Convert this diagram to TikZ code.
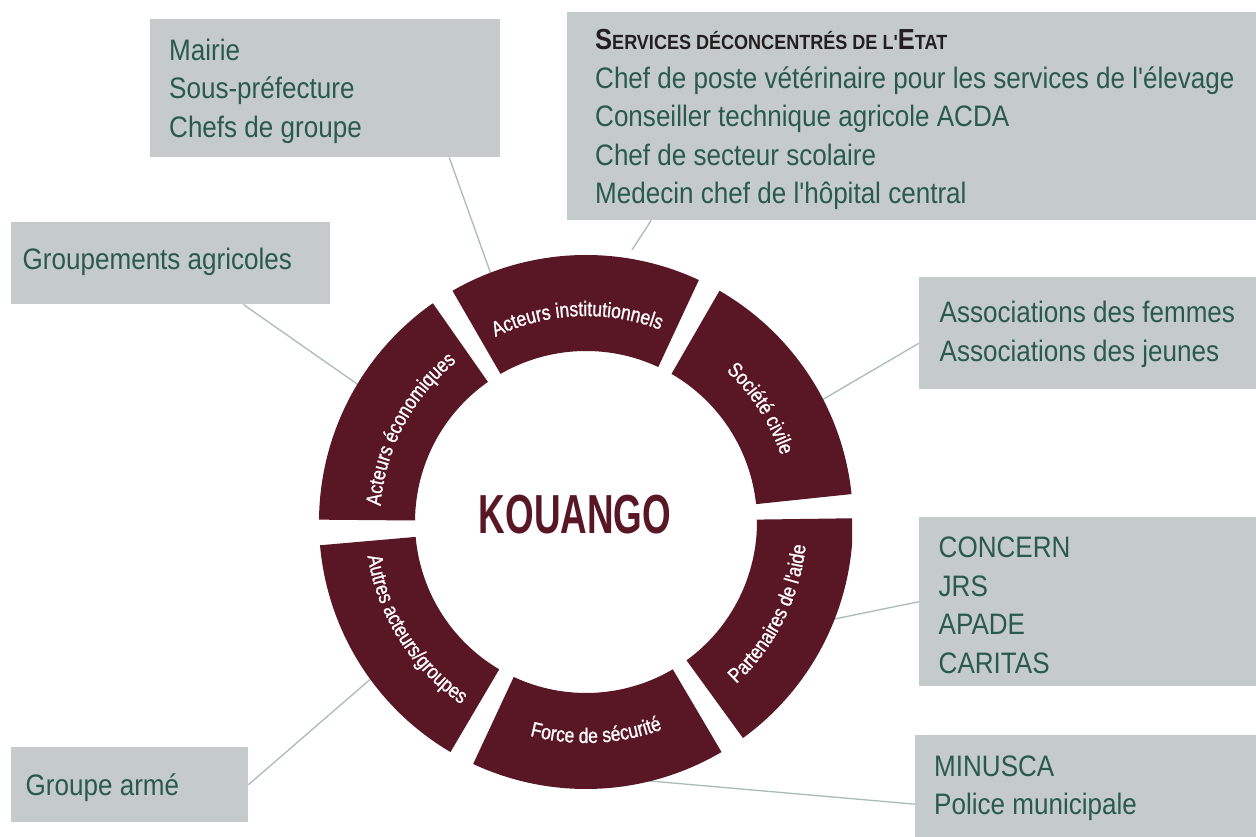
\documentclass[tikz,border=0pt]{standalone}
\usepackage{fontspec}
\setmainfont{Liberation Sans}
\newfontfamily\boxfont[FakeStretch=0.88]{Liberation Sans}
\newfontfamily\ringfont[FakeStretch=0.83,FakeBold=1]{Liberation Sans}
\newfontfamily\kfont[FakeStretch=0.67]{Liberation Sans}
\usetikzlibrary{decorations.text}
\definecolor{ringc}{RGB}{89,22,37}
\definecolor{boxc}{RGB}{197,203,202}
\definecolor{txtc}{RGB}{42,90,76}
\definecolor{hdrc}{RGB}{35,31,32}
\definecolor{linec}{RGB}{168,188,184}
\tikzset{
  boxrect/.style={rectangle, fill=boxc, draw=none, anchor=north west, inner sep=0pt},
  boxtext/.style={anchor=west, inner sep=0pt, align=left, text=txtc,
    font=\boxfont\fontsize{29.6}{38.5}\selectfont},
  conn/.style={draw=linec, line width=1.3pt},
  centerlabel/.style={text=ringc, font=\kfont\bfseries\fontsize{55}{60}\selectfont, inner sep=0pt},
}
\newcommand\myringseg[2]{%
  \fill[ringc] (#1:267pt) arc[start angle=#1, end angle=#2, radius=267pt]
    -- (#2:171pt) arc[start angle=#2, end angle=#1, radius=171pt] -- cycle;}
\newcommand\myringlabel[4]{%
  \path[decorate, decoration={text along path, text align=center,
    text={|\ringfont\fontsize{21}{22}\selectfont\color{white}|#4}}]
    (#1:#3pt) arc[start angle=#1, end angle=#2, radius=#3pt];}
\begin{document}
\begin{tikzpicture}[x=1pt,y=1pt]
\useasboundingbox (0,0) rectangle (1256,837);
\fill[white] (0,0) rectangle (1256,837);
\coordinate (C) at (586,315);
% boxes
\node[boxrect, minimum width=350pt, minimum height=138pt] (bMairie) at (150,818) {};
\node[boxrect, minimum width=689pt, minimum height=208pt] (bServices) at (567,825) {};
\node[boxrect, minimum width=319pt, minimum height=82pt] (bGroup) at (11,615) {};
\node[boxrect, minimum width=337pt, minimum height=112pt] (bAssoc) at (919,560) {};
\node[boxrect, minimum width=337pt, minimum height=169pt] (bConcern) at (919,320) {};
\node[boxrect, minimum width=341pt, minimum height=102pt] (bMinusca) at (915,102) {};
\node[boxrect, minimum width=237pt, minimum height=75pt] (bArme) at (11,90) {};
% box texts
\node[boxtext] (tMairie) at ([xshift=19pt,yshift=-3pt]bMairie.west) {Mairie\\Sous-préfecture\\Chefs de groupe};
\node[boxtext] (tServices) at ([xshift=28pt,yshift=-3.5pt]bServices.west) {{\color{hdrc}\bfseries\fontsize{29}{38.5}\selectfont S\fontsize{20.5}{38.5}\selectfont ERVICES DÉCONCENTRÉS DE L'\fontsize{29}{38.5}\selectfont E\fontsize{20.5}{38.5}\selectfont TAT}\\Chef de poste vétérinaire pour les services de l'élevage\\Conseiller technique agricole ACDA\\Chef de secteur scolaire\\Medecin chef de l'hôpital central};
\node[boxtext] (tGroup) at ([xshift=11.5pt,yshift=1pt]bGroup.west) {Groupements agricoles};
\node[boxtext] (tAssoc) at ([xshift=20.5pt,yshift=-1pt]bAssoc.west) {Associations des femmes\\Associations des jeunes};
\node[boxtext] (tConcern) at ([xshift=19.5pt,yshift=-3.5pt]bConcern.west) {CONCERN\\JRS\\APADE\\CARITAS};
\node[boxtext] (tMinusca) at ([xshift=19pt,yshift=-2pt]bMinusca.west) {MINUSCA\\Police municipale};
\node[boxtext] (tArme) at ([xshift=14.5pt,yshift=-3pt]bArme.west) {Groupe armé};
% attach points on the ring
\begin{scope}[shift={(C)}]
  \coordinate (aMairie) at (111:262pt);
  \coordinate (aServ) at (80.4:276pt);
  \coordinate (aGroup) at (149:262pt);
  \coordinate (aAssoc) at (27.3:262pt);
  \coordinate (aConcern) at (-22:262pt);
  \coordinate (aMinusca) at (-79.5:262pt);
  \coordinate (aArme) at (-144:262pt);
\end{scope}
% connectors
\draw[conn] ([xshift=124pt]bMairie.south) -- (aMairie);
\draw[conn] ([xshift=-260.5pt]bServices.south) -- (aServ);
\draw[conn] ([xshift=72.5pt]bGroup.south) -- (aGroup);
\draw[conn] ([yshift=-10pt]bAssoc.west) -- (aAssoc);
\draw[conn] (bConcern.west) -- (aConcern);
\draw[conn] ([yshift=-18pt]bMinusca.west) -- (aMinusca);
\draw[conn] (bArme.east) -- (aArme);
% ring
\begin{scope}
  \clip (0,0) rectangle (852,837);
  \begin{scope}[shift={(C)}]
    \myringseg{65}{120}
    \myringseg{125}{179.5}
    \myringseg{185}{239.5}
    \myringseg{245}{300.5}
    \myringseg{306}{360.8}
    \myringseg{6}{60}
  \end{scope}
\end{scope}
% ring labels
\begin{scope}[shift={(C)}]
  \myringlabel{120}{65}{206}{Acteurs institutionnels}
  \myringlabel{179.5}{125}{206}{Acteurs économiques}
  \myringlabel{60}{6}{206}{Société civile}
  \myringlabel{185}{239.5}{221}{Autres acteurs/groupes}
  \myringlabel{245}{300.5}{221}{Force de sécurité}
  \myringlabel{306}{360.8}{221}{Partenaires de l'aide}
\end{scope}
\node[centerlabel] (kouango) at (575,322) {KOUANGO};
\end{tikzpicture}
\end{document}
